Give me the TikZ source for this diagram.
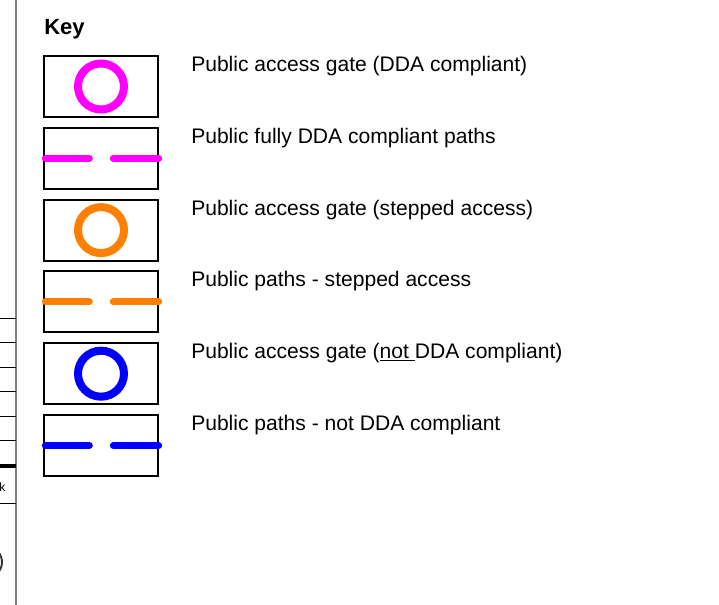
\documentclass[tikz,border=0pt]{standalone}
\usepackage{fontspec}
\setmainfont{Liberation Sans}
\usetikzlibrary{positioning}
\definecolor{ddapink}{RGB}{255,0,255}
\definecolor{steporange}{RGB}{255,128,0}
\definecolor{nonblue}{RGB}{0,0,255}

\begin{document}
\begin{tikzpicture}[
        x=0.75pt, y=-0.75pt,
        node distance=8.1pt,
        font=\fontsize{15.8}{19}\selectfont,
        keybox/.style={rectangle, draw, line width=1.4pt, minimum width=85.5pt, minimum height=45.75pt, inner sep=0pt, outer sep=0pt},
        gate/.style={circle, draw=#1, line width=6pt, minimum size=34.5pt, inner sep=0pt},
        pathdash/.style={draw=#1, line width=5.25pt, line cap=round},
        keytext/.style={anchor=west, inner sep=0pt}
    ]
    \useasboundingbox (0,0) rectangle (719,605);

    % left edge of the plan sheet
    \draw[gray, line width=1.5pt] (16,0) -- (16,605);
    \foreach \yy in {319,343,368,392,417,441,504}
        \draw[line width=0.75pt] (0,\yy) -- (16,\yy);
    \draw[line width=2.4pt] (0,466) -- (16,466);
    \node[anchor=west, inner sep=0pt, font=\fontsize{9}{10}\selectfont] (kfrag) at (-1,487) {k};
    \draw[line width=1.4pt, black!80] (-6,576) arc[start angle=-60, end angle=60, radius=12pt];

    % KEY
    \node[anchor=base west, inner sep=0pt, font=\fontsize{16.5}{19}\selectfont\bfseries] (keytitle) at (44,35) {Key};
    \node[keybox, anchor=north west] (box1) at (44,56) {};
    \node[keybox, below=of box1] (box2) {};
    \node[keybox, below=of box2] (box3) {};
    \node[keybox, below=of box3] (box4) {};
    \node[keybox, below=of box4] (box5) {};
    \node[keybox, below=of box5] (box6) {};

    % symbols
    \node[gate=ddapink] (gate1) at (box1) {};
    \node[gate=steporange] (gate3) at (box3) {};
    \node[gate=nonblue] (gate5) at (box5) {};
    \foreach \b/\c in {box2/ddapink, box4/steporange, box6/nonblue} {
        \draw[pathdash=\c] ([xshift=1pt]\b.west) -- ([xshift=34pt]\b.west);
        \draw[pathdash=\c] ([xshift=-33.5pt]\b.east) -- ([xshift=0.5pt]\b.east);
    }

    % texts
    \node[keytext] (t1) at ([xshift=24.75pt, yshift=-7.5pt]box1.north east) {Public access gate (DDA compliant)};
    \node[keytext] (t2) at ([xshift=24.75pt, yshift=-7.5pt]box2.north east) {Public fully DDA compliant paths};
    \node[keytext] (t3) at ([xshift=24.75pt, yshift=-7.5pt]box3.north east) {Public access gate (stepped access)};
    \node[keytext] (t4) at ([xshift=24.75pt, yshift=-7.5pt]box4.north east) {Public paths - stepped access};
    \node[keytext] (t5) at ([xshift=24.75pt, yshift=-7.5pt]box5.north east) {Public access gate (\underline{not\ }DDA compliant)};
    \node[keytext] (t6) at ([xshift=24.75pt, yshift=-7.5pt]box6.north east) {Public paths - not DDA compliant};
\end{tikzpicture}
\end{document}
